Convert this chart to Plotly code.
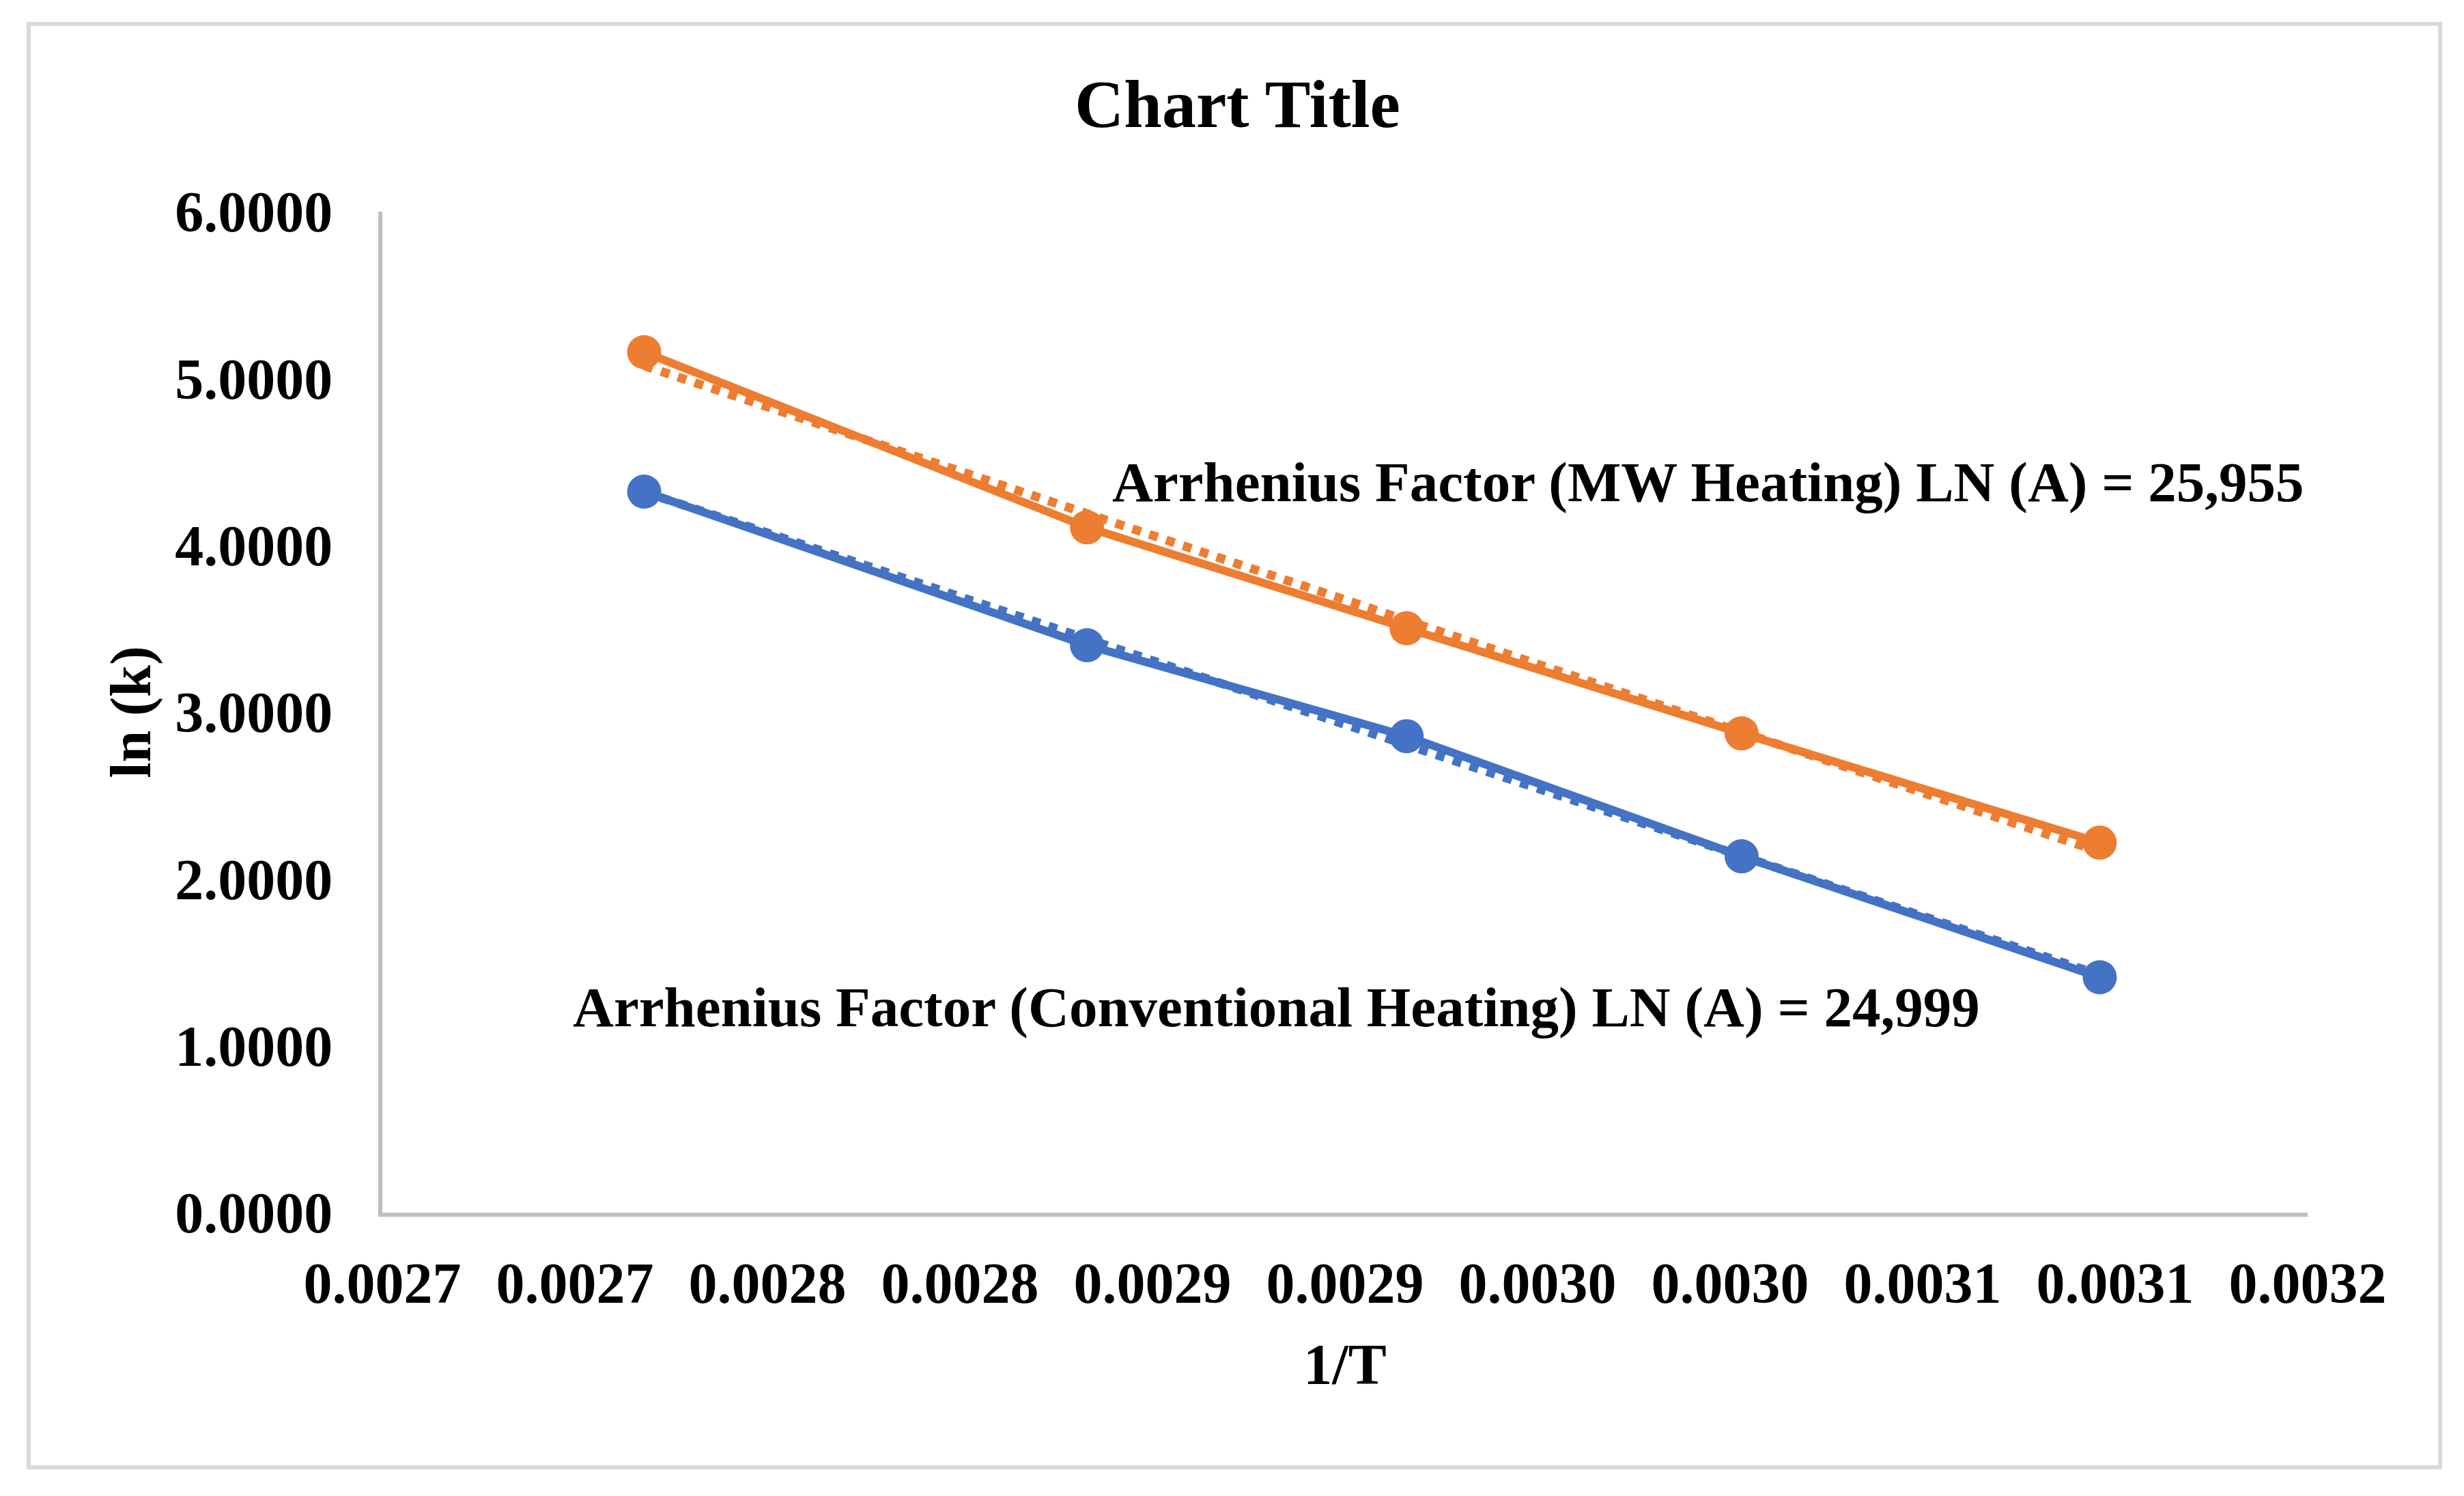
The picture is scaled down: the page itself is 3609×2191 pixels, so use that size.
import numpy as np
import plotly.graph_objects as go

# ---- data ----
inv_T = [0.002768, 0.002883, 0.002966, 0.003053, 0.003146]
ln_k_mw = [5.158, 4.108, 3.503, 2.873, 2.218]
ln_k_conv = [4.322, 3.401, 2.856, 2.136, 1.411]

x_tick_vals = [0.0027, 0.00275, 0.0028, 0.00285, 0.0029, 0.00295,
               0.0030, 0.00305, 0.0031, 0.00315, 0.0032]
x_tick_text = ["0.0027", "0.0027", "0.0028", "0.0028", "0.0029", "0.0029",
               "0.0030", "0.0030", "0.0031", "0.0031", "0.0032"]
y_tick_vals = [0, 1, 2, 3, 4, 5, 6]

title_text = "Chart Title"
label_mw = "Arrhenius Factor (MW Heating) LN (A) = 25,955"
label_conv = "Arrhenius Factor (Conventional Heating) LN (A) = 24,999"

BLUE = "#4472C4"
ORANGE = "#ED7D31"
FONT = "Liberation Serif"

W, H = 3609, 2191
L, R, T, B = 552, 3372, 302, 1768  # plot area pixel box


def px_to_paper_x(px):
    return (px - L) / (R - L)


def px_to_paper_y(py):
    return (B - py) / (B - T)


fig = go.Figure()

for y, c in [(ln_k_conv, BLUE), (ln_k_mw, ORANGE)]:
    fig.add_trace(go.Scatter(
        x=inv_T, y=y, mode="lines+markers",
        line=dict(color=c, width=12),
        marker=dict(color=c, size=50),
        showlegend=False, hoverinfo="x+y"))

# linear trendlines (dotted), computed from the data
for y, c in [(ln_k_conv, BLUE), (ln_k_mw, ORANGE)]:
    m, b = np.polyfit(inv_T, y, 1)
    xs = np.array([inv_T[0], inv_T[-1]])
    fig.add_trace(go.Scatter(
        x=xs, y=m * xs + b, mode="lines",
        line=dict(color=c, width=13, dash="dot"),
        showlegend=False, hoverinfo="skip"))

fig.add_annotation(text=f"<b>{label_mw}</b>", xref="paper", yref="paper",
                   x=px_to_paper_x(1619), y=px_to_paper_y(698),
                   xanchor="left", yanchor="middle", showarrow=False,
                   font=dict(family=FONT, size=83, color="black"))
fig.add_annotation(text=f"<b>{label_conv}</b>", xref="paper", yref="paper",
                   x=px_to_paper_x(829), y=px_to_paper_y(1467),
                   xanchor="left", yanchor="middle", showarrow=False,
                   font=dict(family=FONT, size=83, color="black"))

# outer chart border
fig.add_shape(type="rect", xref="paper", yref="paper",
              x0=px_to_paper_x(34), x1=px_to_paper_x(3566),
              y0=px_to_paper_y(2141), y1=px_to_paper_y(27),
              line=dict(color="#D9D9D9", width=6), fillcolor="rgba(0,0,0,0)",
              layer="below")

fig.update_layout(
    width=W, height=H,
    margin=dict(l=L, r=W - R, t=T, b=H - B, autoexpand=False),
    paper_bgcolor="white", plot_bgcolor="white",
    font=dict(family=FONT, color="black"),
    title=dict(text=f"<b>{title_text}</b>", x=0.5, xref="container",
               xanchor="center", y=1 - 143 / H, yref="container",
               yanchor="middle",
               font=dict(family=FONT, size=100, color="black")),
    xaxis=dict(range=[0.0027, 0.0032], tickmode="array",
               tickvals=x_tick_vals, ticktext=x_tick_text,
               showgrid=False, zeroline=False,
               showline=True, linecolor="#BFBFBF", linewidth=6,
               ticks="", ticklabelstandoff=25,
               tickfont=dict(family=FONT, size=84, color="black",
                             weight="bold"),
               title=dict(text="<b>1/T</b>", standoff=45,
                          font=dict(family=FONT, size=84, color="black")),
               automargin=False),
    yaxis=dict(range=[0, 6], tickmode="array", tickvals=y_tick_vals,
               tickformat=".4f",
               showgrid=False, zeroline=False,
               showline=True, linecolor="#BFBFBF", linewidth=6,
               ticks="", ticklabelstandoff=50,
               tickfont=dict(family=FONT, size=84, color="black",
                             weight="bold"),
               title=dict(text="<b>ln (k)</b>", standoff=10,
                          font=dict(family=FONT, size=84, color="black")),
               automargin=False),
)

fig.write_html("out.html")
